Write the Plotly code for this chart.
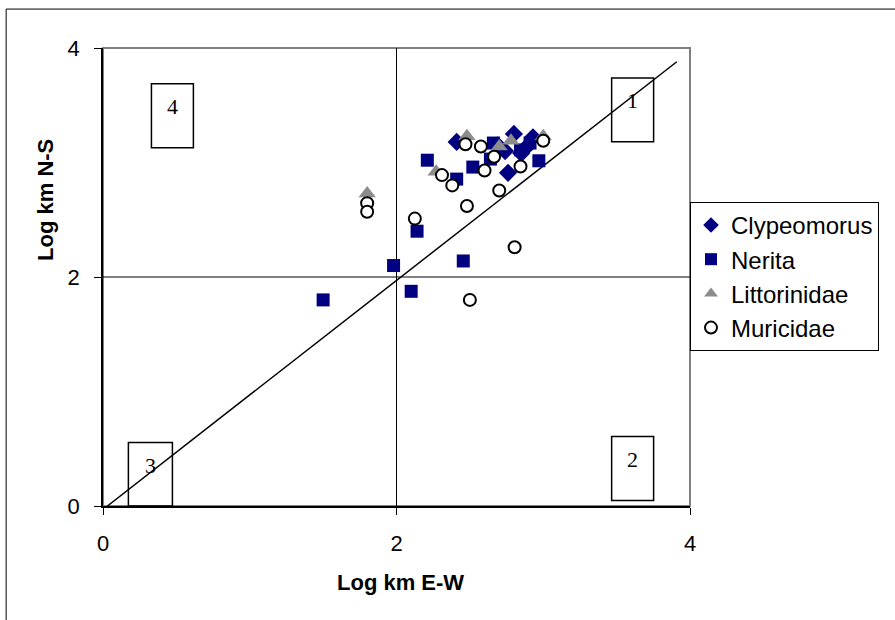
import plotly.graph_objects as go

# Log-transformed range extents (km) by taxon
clyp_ew = [2.41, 2.76, 2.80, 2.93, 2.85, 2.74, 2.89, 2.69]
clyp_ns = [3.18, 2.91, 3.25, 3.22, 3.08, 3.10, 3.14, 3.15]

nerita_ew = [1.50, 1.98, 2.10, 2.14, 2.455, 2.21, 2.41, 2.52, 2.64, 2.66, 2.845, 2.91, 2.97]
nerita_ns = [1.80, 2.10, 1.875, 2.40, 2.14, 3.02, 2.855, 2.96, 3.03, 3.17, 3.11, 3.17, 3.015]

litt_ew = [1.80, 2.48, 2.27, 2.70, 2.78, 3.00]
litt_ns = [2.73, 3.23, 2.92, 3.14, 3.19, 3.23]

muri_ew = [1.80, 1.80, 2.125, 2.48, 2.47, 2.575, 2.665, 2.60, 2.31, 2.38, 2.845, 2.70, 3.00, 2.805, 2.50]
muri_ns = [2.645, 2.57, 2.51, 2.62, 3.16, 3.14, 3.05, 2.93, 2.89, 2.80, 2.965, 2.755, 3.19, 2.26, 1.80]

axis_ticks = [0, 2, 4]
quadrant_labels = ["1", "2", "3", "4"]

# Label boxes for the quadrants: (x0, x1, y0, y1) in axis units
quadrant_boxes = {
    "1": (3.466, 3.752, 3.181, 3.739),
    "2": (3.466, 3.752, 0.048, 0.606),
    "3": (0.173, 0.473, 0.0, 0.554),
    "4": (0.330, 0.616, 3.128, 3.687),
}

NAVY = "#000080"
SANS = "Liberation Sans, Arial, sans-serif"
SERIF = "Liberation Serif, Times New Roman, serif"

fig = go.Figure()

# 1:1 reference line
line_x = [0.03, 3.91]
fig.add_trace(go.Scatter(
    x=line_x, y=[v - 0.03 for v in line_x], mode="lines",
    line=dict(color="black", width=1.5), showlegend=False, hoverinfo="skip",
))

fig.add_trace(go.Scatter(
    x=clyp_ew, y=clyp_ns, mode="markers", name="Clypeomorus", legendgroup="a",
    marker=dict(symbol="diamond", size=14, color=NAVY, line=dict(width=0)),
))
fig.add_trace(go.Scatter(
    x=nerita_ew, y=nerita_ns, mode="markers", name="Nerita", legendgroup="b",
    marker=dict(symbol="square", size=13, color=NAVY, line=dict(width=0)),
))
fig.add_trace(go.Scatter(
    x=litt_ew, y=litt_ns, mode="markers", name="Littorinidae", legendgroup="c",
    marker=dict(symbol="triangle-up", size=15, color="#8c8c8c", line=dict(width=0)),
))
fig.add_trace(go.Scatter(
    x=muri_ew, y=muri_ns, mode="markers", name="Muricidae", legendgroup="d",
    marker=dict(symbol="circle", size=12, color="white", line=dict(color="black", width=2)),
))

shapes = []
# plot-area frame (grey), axis lines are drawn on top in black
shapes.append(dict(type="rect", xref="x domain", yref="y domain", x0=0, x1=1, y0=0, y1=1,
                   line=dict(color="#808080", width=2), layer="below"))
# crosshair at the middle ticks
shapes.append(dict(type="line", xref="x", yref="y domain", x0=axis_ticks[1], x1=axis_ticks[1],
                   y0=0, y1=1, line=dict(color="black", width=1), layer="below"))
shapes.append(dict(type="line", xref="x domain", yref="y", x0=0, x1=1,
                   y0=axis_ticks[1], y1=axis_ticks[1], line=dict(color="black", width=1), layer="below"))
# outer chart border
shapes.append(dict(type="rect", xref="paper", yref="paper", x0=-0.165, x1=1.40, y0=-0.30, y1=1.085,
                   line=dict(color="black", width=1), fillcolor="rgba(0,0,0,0)", layer="below"))

annotations = []
for lab in quadrant_labels:
    x0, x1, y0, y1 = quadrant_boxes[lab]
    shapes.append(dict(type="rect", xref="x", yref="y", x0=x0, x1=x1, y0=y0, y1=y1,
                       line=dict(color="black", width=1.5), layer="above"))
    annotations.append(dict(x=(x0 + x1) / 2, y=y1 - 0.2, xref="x", yref="y", text=lab,
                            showarrow=False, font=dict(family=SERIF, size=22, color="black")))

annotations.append(dict(text="<b>Log km E-W</b>", xref="paper", yref="paper", x=0.506, y=-0.166,
                        xanchor="center", yanchor="middle",
                        showarrow=False, font=dict(family=SANS, size=22, color="black")))
annotations.append(dict(text="<b>Log km N-S</b>", xref="paper", yref="paper", x=-0.099, y=0.668,
                        xanchor="center", yanchor="middle",
                        textangle=-90, showarrow=False, font=dict(family=SANS, size=22, color="black")))

fig.update_layout(
    width=895, height=620,
    margin=dict(l=103, r=205, t=48, b=114, autoexpand=False),
    paper_bgcolor="white", plot_bgcolor="white",
    showlegend=True,
    legend=dict(x=1.0, y=0.664, xanchor="left", yanchor="top",
                bordercolor="black", borderwidth=1, bgcolor="white",
                font=dict(family=SANS, size=24, color="black"),
                tracegroupgap=0, itemsizing="constant"),
    shapes=shapes, annotations=annotations,
)
fig.update_xaxes(range=[0, 4], tickvals=axis_ticks, showgrid=False, zeroline=False,
                 showline=True, linecolor="black", linewidth=1.5,
                 ticks="outside", ticklen=7, tickcolor="black",
                 ticklabelstandoff=10,
                 tickfont=dict(family=SANS, size=22, color="black"))
fig.update_yaxes(range=[0, 4], tickvals=axis_ticks, showgrid=False, zeroline=False,
                 showline=True, linecolor="black", linewidth=1.5,
                 ticks="outside", ticklen=7, tickcolor="black",
                 ticklabelstandoff=10,
                 tickfont=dict(family=SANS, size=22, color="black"))

fig.write_html("out.html")
